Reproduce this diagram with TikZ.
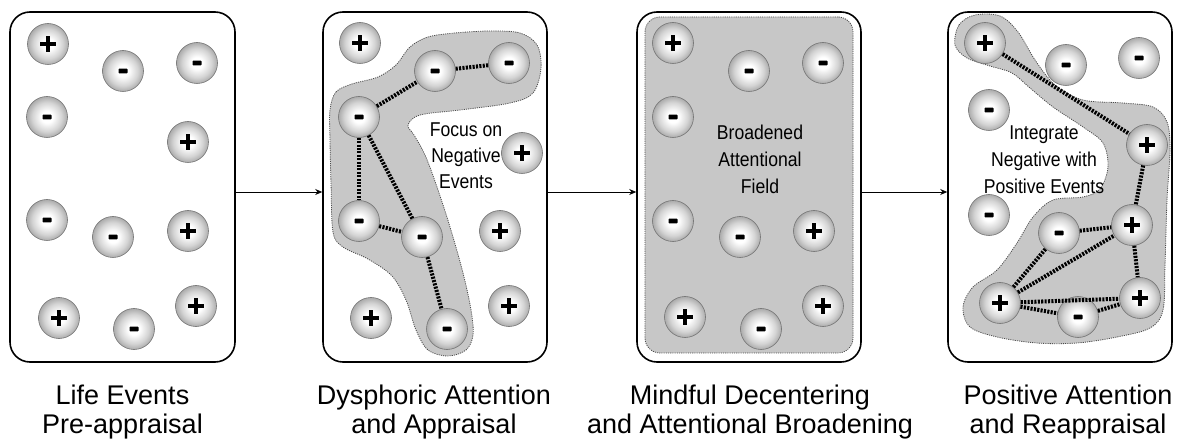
\documentclass[tikz,border=0pt]{standalone}
\usepackage{fontspec}
\setmainfont{Liberation Sans}
\newfontfamily\condfont[FakeStretch=0.88]{Liberation Sans}
\usetikzlibrary{arrows.meta}

% soft ball look for the event markers
\pgfdeclareradialshading{eventball}{\pgfpoint{0bp}{0bp}}{%
  color(0bp)=(white); color(7bp)=(white); color(18bp)=(black!17); color(25bp)=(black!33); color(50bp)=(black!33)}

\begin{document}
\begin{tikzpicture}[x=1pt,y=-1pt,
  panel/.style={draw=black, line width=1.6pt, rounded corners=20pt, fill=white,
    minimum width=224pt, minimum height=350pt, inner sep=0pt},
  event/.style={circle, minimum size=41pt, inner sep=0pt, draw=black!55, line width=0.6pt,
    shading=eventball},
  plusev/.style={event, path picture={
    \draw[black, line width=3.8pt] ([xshift=-8pt]path picture bounding box.center) -- ([xshift=8pt]path picture bounding box.center);
    \draw[black, line width=3.8pt] ([yshift=-8pt]path picture bounding box.center) -- ([yshift=8pt]path picture bounding box.center);}},
  minusev/.style={event, path picture={
    \fill[black, rounded corners=0.8pt] ([xshift=-4.5pt,yshift=-2.4pt]path picture bounding box.center) rectangle ([xshift=4.5pt,yshift=2.4pt]path picture bounding box.center);}},
  link/.style={black, line width=4pt, dash pattern=on 2.1pt off 1.3pt},
  blob/.style={fill=black!22, draw=black!70, line width=0.8pt, dash pattern=on 1.1pt off 1.1pt},
  flow/.style={line width=0.8pt, -{Stealth[length=7pt,width=6pt]}},
  note/.style={font=\condfont\fontsize{20}{26}\selectfont, align=center, inner sep=0pt},
  caption/.style={font=\fontsize{27}{29}\selectfont, align=center, anchor=base, inner sep=0pt}
]
\useasboundingbox (0,0) rectangle (1180,443);

% the four stage frames
\node[panel, minimum width=225pt] (p1) at (122.5,187) {};
\node[panel] (p2) at (435,187) {};
\node[panel] (p3) at (749,187) {};
\node[panel] (p4) at (1060,187) {};

% broadened field in stage three
\node[blob, rounded corners=15pt, minimum width=208pt, minimum height=336pt, inner sep=0pt] (field) at (749,185) {};

% attentional focus regions
\path[blob] plot[smooth cycle, tension=0.55] coordinates {
  (330,110) (336,92) (352,84) (378,77) (396,65) (410,47) (428,37) (455,33) (490,31)
  (520,33) (537,45) (541,68) (533,93) (510,103) (460,110) (420,115) (408,125) (414,135)
  (425,155) (437,187) (450,227) (463,273) (471,310) (473,335) (466,350) (448,356)
  (428,350) (416,330) (406,300) (392,276) (368,259) (343,247) (333,232) (331,183) (330,140)};
\path[blob] plot[smooth cycle, tension=0.55] coordinates {
  (955,45) (959,25) (975,15) (1000,16) (1018,32) (1035,60) (1055,85) (1083,100)
  (1123,103) (1153,107) (1167,122) (1170,150) (1167,200) (1165,265) (1163,310)
  (1150,328) (1117,337) (1077,343) (1037,343) (997,337) (970,327) (963,307) (973,287)
  (997,270) (1017,243) (1033,217) (1053,200) (1083,197) (1100,189) (1108,167)
  (1103,143) (1083,127) (1053,107) (1030,88) (1012,73) (990,66) (967,58)};

% stage one: life events
\node[plusev] (a1) at (48,44) {};
\node[minusev] (a2) at (123,71) {};
\node[minusev] (a3) at (197,63) {};
\node[minusev] (a4) at (47,117) {};
\node[plusev] (a5) at (188,142) {};
\node[minusev] (a6) at (47,220) {};
\node[minusev] (a7) at (113,237) {};
\node[plusev] (a8) at (188,231) {};
\node[plusev] (a9) at (59,318) {};
\node[minusev] (a10) at (134,329) {};
\node[plusev] (a11) at (196,306) {};

% stage two: dysphoric attention
\node[plusev] (b1) at (360,43) {};
\node[minusev] (b2) at (435,71) {};
\node[minusev] (b3) at (509,63) {};
\node[minusev] (b4) at (359,117) {};
\node[plusev] (b5) at (522,153) {};
\node[minusev] (b6) at (359,221) {};
\node[minusev] (b7) at (422,237) {};
\node[plusev] (b8) at (500,231) {};
\node[plusev] (b9) at (371,318) {};
\node[minusev] (b10) at (447,329) {};
\node[plusev] (b11) at (509,306) {};
\draw[link] (b4) -- (b2);
\draw[link] (b2) -- (b3);
\draw[link] (b4) -- (b6);
\draw[link] (b4) -- (b7);
\draw[link] (b6) -- (b7);
\draw[link] (b7) -- (b10);
\node[note] (t2) at (466,156) {Focus on\\Negative\\Events};

% stage three: mindful decentering
\node[plusev] (c1) at (673,43) {};
\node[minusev] (c2) at (749,71) {};
\node[minusev] (c3) at (823,63) {};
\node[minusev] (c4) at (673,117) {};
\node[minusev] (c5) at (673,221) {};
\node[minusev] (c6) at (740,237) {};
\node[plusev] (c7) at (814,231) {};
\node[plusev] (c8) at (685,317) {};
\node[minusev] (c9) at (761,329) {};
\node[plusev] (c10) at (823,306) {};
\node[note, font=\condfont\fontsize{20}{27}\selectfont] (t3) at (760,159) {Broadened\\Attentional\\Field};

% stage four: positive attention
\node[plusev] (d1) at (985,43) {};
\node[minusev] (d2) at (1066,65) {};
\node[minusev] (d3) at (1139,58) {};
\node[minusev] (d4) at (989,110) {};
\node[plusev] (d5) at (1147,145) {};
\node[minusev] (d6) at (989,215) {};
\node[minusev] (d7) at (1059,233) {};
\node[plusev] (d8) at (1132,225) {};
\node[plusev] (d9) at (1000,303) {};
\node[minusev] (d10) at (1078,317) {};
\node[plusev] (d11) at (1140,298) {};
\draw[link] (d1) -- (d5);
\draw[link] (d5) -- (d8);
\draw[link] (d7) -- (d8);
\draw[link] (d9) -- (d7);
\draw[link] (d9) -- (d8);
\draw[link] (d9) -- (d11);
\draw[link] (d9) -- (d10);
\draw[link] (d10) -- (d11);
\draw[link] (d8) -- (d11);
\node[note, font=\condfont\fontsize{20}{27}\selectfont] (t4) at (1044,160) {Integrate\\Negative with\\Positive Events};

% transitions between stages
\draw[flow] ([yshift=-5pt]p1.east) -- ([yshift=-5pt]p2.west);
\draw[flow] ([yshift=-5pt]p2.east) -- ([yshift=-5pt]p3.west);
\draw[flow] ([yshift=-5pt]p3.east) -- ([yshift=-5pt]p4.west);

% stage captions
\node[caption] (l1) at (122.5,433) {Life Events\\Pre-appraisal};
\node[caption] (l2) at (434,433) {Dysphoric Attention\\and Appraisal};
\node[caption] (l3) at (750,433) {Mindful Decentering\\and Attentional Broadening};
\node[caption] (l4) at (1068,433) {Positive Attention\\and Reappraisal};
\end{tikzpicture}
\end{document}
